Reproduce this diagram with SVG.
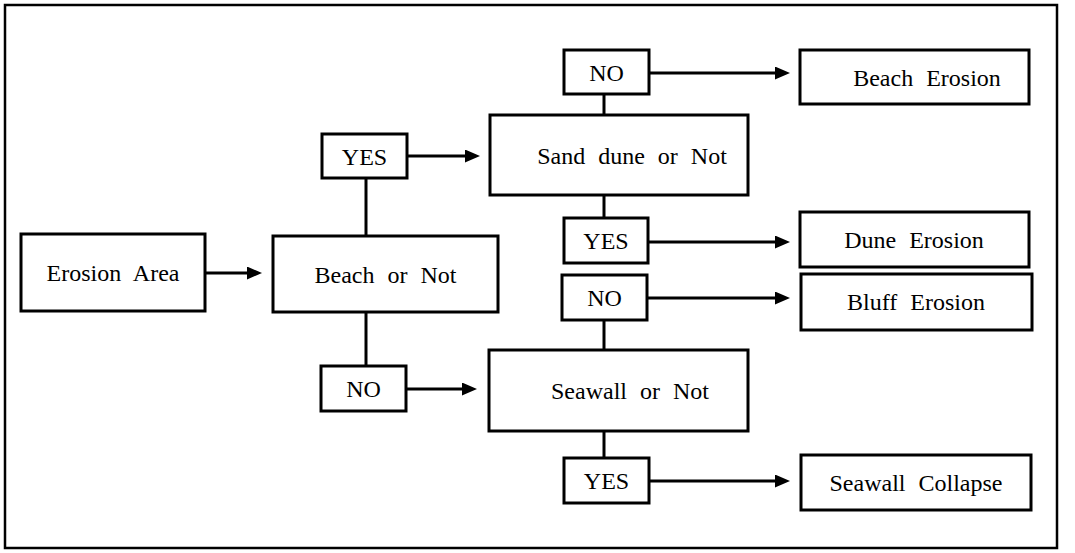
<svg xmlns="http://www.w3.org/2000/svg" width="1075" height="553" viewBox="0 0 1075 553">
<style>
.box{fill:#fff;stroke:#000;stroke-width:3}
.frame{fill:#fff;stroke:#000;stroke-width:2.5}
.t{font-family:"Liberation Serif","Times New Roman",serif;font-size:24px;word-spacing:7px;text-anchor:middle;fill:#000}
.ln{stroke:#000;stroke-width:3;fill:none}
.ar{stroke:#000;stroke-width:3;fill:none;marker-end:url(#ah)}
</style>
<defs>
<marker id="ah" markerUnits="userSpaceOnUse" markerWidth="15" markerHeight="13" viewBox="0 0 15 13" refX="3" refY="6.5" orient="auto">
<path d="M0,0 L15,6.5 L0,13 Z" fill="#000"/>
</marker>
</defs>
<rect class="frame" x="5" y="5" width="1052" height="543"/>
<g id="connectors">
<line class="ar" x1="205" y1="273" x2="250" y2="273"/>
<line class="ln" x1="366" y1="178" x2="366" y2="236"/>
<line class="ln" x1="366" y1="312" x2="366" y2="366"/>
<line class="ar" x1="407" y1="156" x2="468" y2="156"/>
<line class="ar" x1="406" y1="389" x2="465" y2="389"/>
<line class="ln" x1="604" y1="94" x2="604" y2="115"/>
<line class="ln" x1="604" y1="195" x2="604" y2="218"/>
<line class="ln" x1="604" y1="320" x2="604" y2="350"/>
<line class="ln" x1="604" y1="431" x2="604" y2="458"/>
<line class="ar" x1="649" y1="73" x2="778" y2="73"/>
<line class="ar" x1="648" y1="242" x2="778" y2="242"/>
<line class="ar" x1="647" y1="298" x2="778" y2="298"/>
<line class="ar" x1="649" y1="481" x2="778" y2="481"/>
</g>
<g id="erosion-area"><rect class="box" x="21" y="234" width="184" height="77"/><text class="t" x="113" y="281">Erosion Area</text></g>
<g id="beach-or-not"><rect class="box" x="273" y="236" width="225" height="76"/><text class="t" x="385.5" y="282.5">Beach or Not</text></g>
<g id="yes-beach"><rect class="box" x="322" y="134" width="85" height="44"/><text class="t" x="364.5" y="164.5">YES</text></g>
<g id="no-beach"><rect class="box" x="321" y="366" width="85" height="45"/><text class="t" x="363.5" y="397">NO</text></g>
<g id="sand-dune-or-not"><rect class="box" x="490" y="115" width="258" height="80"/><text class="t" x="632" y="164">Sand dune or Not</text></g>
<g id="seawall-or-not"><rect class="box" x="489" y="350" width="259" height="81"/><text class="t" x="630" y="399">Seawall or Not</text></g>
<g id="no-dune"><rect class="box" x="564" y="50" width="85" height="44"/><text class="t" x="606.5" y="80.5">NO</text></g>
<g id="yes-dune"><rect class="box" x="564" y="218" width="84" height="45"/><text class="t" x="606" y="249">YES</text></g>
<g id="no-seawall"><rect class="box" x="562" y="275" width="85" height="45"/><text class="t" x="604.5" y="306">NO</text></g>
<g id="yes-seawall"><rect class="box" x="564" y="458" width="85" height="45"/><text class="t" x="606.5" y="489">YES</text></g>
<g id="beach-erosion"><rect class="box" x="800" y="50" width="229" height="54"/><text class="t" x="927" y="86">Beach Erosion</text></g>
<g id="dune-erosion"><rect class="box" x="800" y="212" width="229" height="55"/><text class="t" x="914" y="248">Dune Erosion</text></g>
<g id="bluff-erosion"><rect class="box" x="801" y="274" width="231" height="56"/><text class="t" x="916" y="310">Bluff Erosion</text></g>
<g id="seawall-collapse"><rect class="box" x="801" y="455" width="230" height="55"/><text class="t" x="916" y="491">Seawall Collapse</text></g>
</svg>
